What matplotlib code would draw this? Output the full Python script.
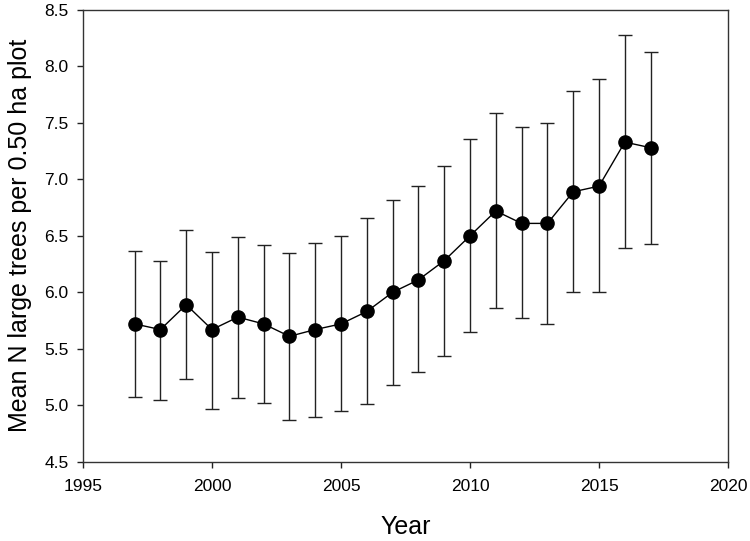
import matplotlib
matplotlib.use("Agg")
import matplotlib.pyplot as plt

plt.rcParams['font.family'] = ['Liberation Sans', 'DejaVu Sans']

years = [1997, 1998, 1999, 2000, 2001, 2002, 2003, 2004, 2005, 2006, 2007,
         2008, 2009, 2010, 2011, 2012, 2013, 2014, 2015, 2016, 2017]
means = [5.72, 5.67, 5.89, 5.67, 5.78, 5.72, 5.61, 5.67, 5.72, 5.83, 6.00,
         6.11, 6.28, 6.50, 6.72, 6.61, 6.61, 6.89, 6.94, 7.33, 7.28]
lower = [5.07, 5.05, 5.23, 4.97, 5.06, 5.02, 4.87, 4.90, 4.95, 5.01, 5.18,
         5.29, 5.44, 5.65, 5.86, 5.77, 5.72, 6.00, 6.00, 6.39, 6.43]
upper = [6.37, 6.28, 6.55, 6.36, 6.49, 6.42, 6.35, 6.44, 6.50, 6.66, 6.82,
         6.94, 7.12, 7.36, 7.59, 7.46, 7.50, 7.78, 7.89, 8.28, 8.13]
xticks = [1995, 2000, 2005, 2010, 2015, 2020]
yticks = [4.5, 5.0, 5.5, 6.0, 6.5, 7.0, 7.5, 8.0, 8.5]

err_lo = [m - l for m, l in zip(means, lower)]
err_hi = [u - m for m, u in zip(means, upper)]

fig = plt.figure(figsize=(7.5, 5.41), dpi=100)
ax = fig.add_axes([0.1107, 0.1466, 0.86, 0.835])

ax.errorbar(years, means, yerr=[err_lo, err_hi], fmt='o-', color='black',
            ecolor='#222222', elinewidth=1.0, capsize=5, capthick=1.0,
            markersize=9.5, linewidth=1.0)

ax.set_xlim(1995, 2020)
ax.set_ylim(4.5, 8.5)
ax.set_xticks(xticks)
ax.set_yticks(yticks)
ax.set_yticklabels([f"{v:.1f}" for v in yticks])
ax.tick_params(direction='out', length=4.5, width=1.0, labelsize=12.5,
               top=False, right=False, colors='#222222', labelcolor='black')
ax.tick_params(axis='x', pad=8)
ax.tick_params(axis='y', pad=6)
for s in ax.spines.values():
    s.set_linewidth(1.0)
    s.set_color('#333333')

ax.set_xlabel('Year', fontsize=18)
ax.set_ylabel('Mean N large trees per 0.50 ha plot', fontsize=18)
ax.xaxis.set_label_coords(0.50, -0.1446)
ax.yaxis.set_label_coords(-0.0977, 0.5)
ax.xaxis.label.set_va('center')
ax.yaxis.label.set_va('center')

fig.savefig('out.png', dpi=100)
